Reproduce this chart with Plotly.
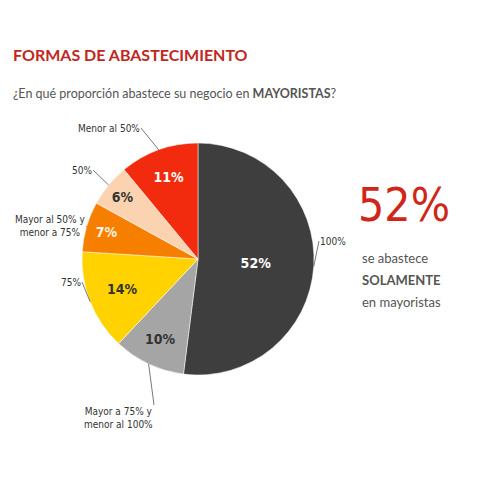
import math
import plotly.graph_objects as go

categories = ["100%", "Mayor a 75% y<br>menor al 100%", "75%",
              "Mayor al 50% y<br>menor a 75%", "50%", "Menor al 50%"]
values = [52, 10, 14, 7, 6, 11]
colors = ["#3e3e3e", "#a5a5a5", "#ffd200", "#f77f00", "#fbd3b0", "#f22a0e"]
text_colors = ["#ffffff", "#333333", "#333333", "#fff3e0", "#333333", "#ffffff"]

# page body has an 8px margin; work in reference-pixel coordinates
OFF = 8
W = H = 480 - 2 * OFF


def px2paper(X, Y):
    return (X - OFF) / W, 1 - (Y - OFF) / H


cx, cy, r = 198, 259, 116  # pie centre / radius in reference pixels

# where each outside label's tail sits (reference pixels) and its anchors
label_tail = [(319, 241), (154, 405), (82, 282), (86, 226), (93, 170), (141, 128)]
label_xanchor = ["left", "right", "right", "right", "right", "right"]
label_yanchor = ["middle", "top", "middle", "middle", "middle", "middle"]

x0, y0 = px2paper(cx - r, cy + r)
x1, y1 = px2paper(cx + r, cy - r)

FONT_C = "DejaVu Sans Condensed, Roboto, sans-serif"

fig = go.Figure()
fig.add_trace(go.Pie(
    values=values,
    labels=categories,
    sort=False,
    direction="clockwise",
    rotation=0,
    marker=dict(colors=colors, line=dict(color="#ffffff", width=0.5)),
    texttemplate="%{value}%",
    textposition="inside",
    insidetextorientation="horizontal",
    textfont=dict(family=FONT_C, size=14, color=text_colors, weight="bold"),
    showlegend=False,
    hoverinfo="label+percent",
    domain=dict(x=[x0, x1], y=[y0, y1]),
))

annotations = []
total = sum(values)
cum = 0
for cat, v, (tx, ty), xa, ya in zip(categories, values, label_tail,
                                     label_xanchor, label_yanchor):
    mid = (cum + v / 2) / total * 2 * math.pi
    cum += v
    ex = cx + r * math.sin(mid)
    ey = cy - r * math.cos(mid)
    px, py = px2paper(ex, ey)
    annotations.append(dict(
        x=px, y=py, xref="paper", yref="paper",
        text=cat, showarrow=True, arrowhead=0, arrowwidth=0.8,
        arrowcolor="#555555", ax=tx - ex, ay=ty - ey, standoff=0,
        xanchor=xa, yanchor=ya, align="center", borderpad=0,
        font=dict(family=FONT_C, size=10, color="#333333"),
    ))


def txt(X, Y, text, size, color, family="Lato", weight="normal"):
    x, y = px2paper(X, Y)
    return dict(x=x, y=y, xref="paper", yref="paper", showarrow=False,
                text=text, xanchor="left", yanchor="middle", align="left",
                font=dict(family=family, size=size, color=color, weight=weight))


annotations += [
    txt(11, 55, "FORMAS DE ABASTECIMIENTO", 16, "#c0271d", weight="bold"),
    txt(11, 93, "¿En qué proporción abastece su negocio en <b>MAYORISTAS</b>?",
        12.5, "#555555"),
    txt(356, 205, "52%", 46, "#d0261a", family=FONT_C),
    txt(360, 258, "se abastece", 13, "#555555"),
    txt(360, 280, "SOLAMENTE", 13, "#555555", weight="bold"),
    txt(360, 302, "en mayoristas", 13, "#555555"),
]

fig.update_layout(
    width=W, height=H,
    margin=dict(l=0, r=0, t=0, b=0),
    paper_bgcolor="#ffffff",
    plot_bgcolor="#ffffff",
    annotations=annotations,
)

fig.write_html("out.html")
